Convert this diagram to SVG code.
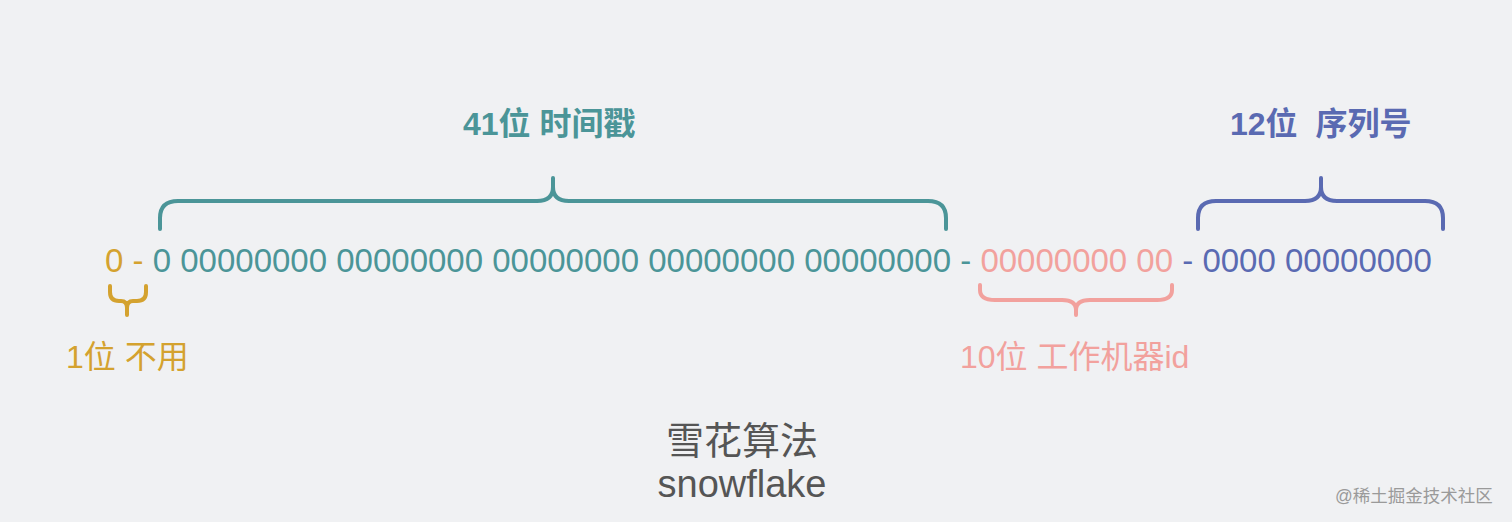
<svg xmlns="http://www.w3.org/2000/svg" width="1512" height="522" viewBox="0 0 1512 522">
  <style>
    .t { font-family: "Liberation Sans", "Noto Sans CJK SC", sans-serif; }
    .row { font-size: 33px; }
    .lbl { font-size: 32px; }
    .bold { font-weight: bold; }
    .brace { fill: none; stroke-width: 4; stroke-linecap: round; stroke-linejoin: round; }
    .c-or { fill: #D4A22F; }
    .c-te { fill: #4B9598; }
    .c-pk { fill: #F2A19D; }
    .c-bl { fill: #5A6AB2; }
    .s-or { stroke: #D4A22F; }
    .s-te { stroke: #4B9598; }
    .s-pk { stroke: #F2A19D; }
    .s-bl { stroke: #5A6AB2; }
  </style>
  <rect width="1512" height="522" fill="#F0F1F3"/>

  <g id="bits">
    <text class="t row" x="105" y="272"><tspan class="c-or">0</tspan> <tspan class="c-or">-</tspan> <tspan class="c-te">0 00000000 00000000 00000000 00000000 00000000</tspan> <tspan class="c-te">-</tspan> <tspan class="c-pk">00000000 00</tspan> <tspan class="c-bl">- 0000 00000000</tspan></text>
  </g>

  <g id="braces">
    <path class="brace s-te" d="M160,229 V218 Q160,201 178,201 H537 Q553,201 553,187 V178 M553,187 Q553,201 569,201 H928 Q946,201 946,218 V229"/>
    <path class="brace s-bl" d="M1198,229 V218 Q1198,201 1216,201 H1305 Q1321,201 1321,187 V178 M1321,187 Q1321,201 1337,201 H1425 Q1443,201 1443,218 V229"/>
    <path class="brace s-pk" d="M980,285 V290 Q980,300 995,300 H1062 Q1076,300 1076,310 V315 M1076,310 Q1076,300 1090,300 H1157 Q1172,300 1172,290 V285"/>
    <path class="brace s-or" d="M110,286 V292 Q110,301 119,301 H121 Q127,301 127,308 V315 M127,308 Q127,301 133,301 H137 Q146,301 146,292 V286"/>
  </g>

  <g id="timestamp">
    <text class="t lbl bold c-te" x="463" y="135">41位 时间戳</text>
  </g>
  <g id="sequence">
    <text class="t lbl bold c-bl" x="1230" y="135" xml:space="preserve">12位  序列号</text>
  </g>
  <g id="unused">
    <text class="t lbl c-or" x="66" y="368">1位 不用</text>
  </g>
  <g id="worker">
    <text class="t lbl c-pk" x="960" y="368">10位 工作机器id</text>
  </g>

  <g id="title">
    <text class="t" x="742" y="454" font-size="38" fill="#555555" text-anchor="middle">雪花算法</text>
    <text class="t" x="742" y="497" font-size="38" fill="#555555" text-anchor="middle">snowflake</text>
  </g>

  <g id="watermark">
    <text class="t" x="1335" y="502" font-size="17.5" fill="#9A9A9A">@稀土掘金技术社区</text>
  </g>
</svg>
